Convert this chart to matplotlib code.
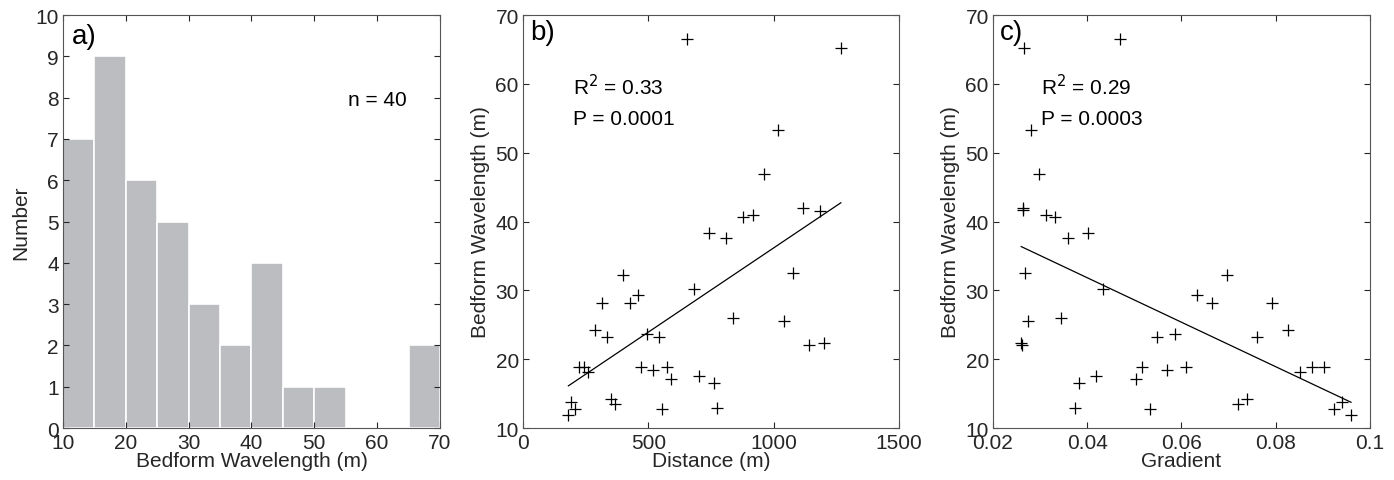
import matplotlib

matplotlib.use("Agg")
import matplotlib.pyplot as plt
from matplotlib.ticker import FuncFormatter
import numpy as np

plt.rcParams["font.family"] = ["Liberation Sans", "DejaVu Sans"]

# Panel b: distance (m) vs bedform wavelength (m)
distance = [654, 1268, 1019, 962, 876, 917, 1116, 1184, 743, 811,
            397, 1076, 683, 315, 425, 458, 837, 1042, 287, 337,
            494, 542, 1141, 1200, 222, 242, 258, 472, 517, 573,
            590, 703, 760, 193, 209, 181, 351, 368, 554, 772]
wavelength_b = [66.5, 65.2, 53.3, 46.9, 40.6, 40.9, 41.9, 41.5, 38.3, 37.6,
                32.3, 32.5, 30.2, 28.2, 28.2, 29.3, 26.0, 25.6, 24.3, 23.2,
                23.6, 23.2, 22.0, 22.3, 18.8, 18.8, 18.1, 18.8, 18.4, 18.8,
                17.1, 17.6, 16.5, 13.8, 12.7, 11.9, 14.2, 13.5, 12.7, 12.9]

# Panel c: gradient vs bedform wavelength (m)
gradient = [0.0265, 0.0470, 0.0281, 0.0297, 0.0263, 0.0264, 0.0313, 0.0331, 0.0360, 0.0401,
            0.0268, 0.0433, 0.0274, 0.0345, 0.0260, 0.0261, 0.0634, 0.0664, 0.0696, 0.0793,
            0.0827, 0.0549, 0.0587, 0.0760, 0.0517, 0.0569, 0.0610, 0.0851, 0.0877, 0.0903,
            0.0418, 0.0503, 0.0383, 0.0375, 0.0533, 0.0721, 0.0740, 0.0924, 0.0941, 0.0960]
wavelength_c = [65.2, 66.5, 53.3, 46.9, 41.7, 41.9, 41.0, 40.6, 37.6, 38.3,
                32.5, 30.2, 25.6, 26.0, 22.3, 22.0, 29.3, 28.2, 32.3, 28.2,
                24.3, 23.2, 23.6, 23.2, 18.8, 18.4, 18.8, 18.1, 18.8, 18.8,
                17.6, 17.1, 16.5, 12.9, 12.7, 13.5, 14.2, 12.7, 13.8, 11.9]

hist_bins = np.arange(10, 75, 5)

TXT = "#262626"
SPINE = "#555555"
FS = 15


def style_axes(ax):
    ax.tick_params(direction="in", top=True, right=True, length=4.5, width=0.8,
                   labelsize=FS, colors=TXT, pad=3)
    ax.tick_params(axis="x", pad=3.5)
    for sp in ax.spines.values():
        sp.set_color(SPINE)
        sp.set_linewidth(0.8)


fig = plt.figure(figsize=(13.94, 4.81), dpi=100)
axa = fig.add_axes([0.0452, 0.108, 0.2704, 0.8586])
axb = fig.add_axes([0.3752, 0.108, 0.2697, 0.8586])
axc = fig.add_axes([0.7123, 0.108, 0.2704, 0.8586])

# a) histogram
axa.hist(wavelength_b, bins=hist_bins, color="#bcbdc0", edgecolor="white", linewidth=1.2)
axa.set_xlim(10, 70)
axa.set_ylim(0, 10)
axa.set_xticks(np.arange(10, 71, 10))
axa.set_yticks(np.arange(0, 11, 1))
axa.set_xlabel("Bedform Wavelength (m)", fontsize=FS, color=TXT, labelpad=-1)
axa.set_ylabel("Number", fontsize=FS, color=TXT, labelpad=4)
axa.text(11.4, 9.5, "a)", fontsize=20, color="black", va="center")
axa.text(55.3, 7.95, "n = 40", fontsize=15, color="black", va="center")
style_axes(axa)

# b) distance scatter
axb.plot(distance, wavelength_b, "k+", markersize=8, markeredgewidth=0.9)
fit_b = np.polyfit(distance, wavelength_b, 1)
xb = np.array([min(distance), max(distance)])
axb.plot(xb, np.polyval(fit_b, xb), color="black", linewidth=0.9)
axb.set_xlim(0, 1500)
axb.set_ylim(10, 70)
axb.set_xticks([0, 500, 1000, 1500])
axb.set_yticks(np.arange(10, 71, 10))
axb.set_xlabel("Distance (m)", fontsize=FS, color=TXT, labelpad=-1)
axb.set_ylabel("Bedform Wavelength (m)", fontsize=FS, color=TXT, labelpad=4)
axb.text(30, 67.5, "b)", fontsize=20, color="black", va="center")
axb.text(200, 59.7, "R$^2$ = 0.33", fontsize=15, color="black", va="center")
axb.text(200, 55.0, "P = 0.0001", fontsize=15, color="black", va="center")
style_axes(axb)

# c) gradient scatter
axc.plot(gradient, wavelength_c, "k+", markersize=8, markeredgewidth=0.9)
fit_c = np.polyfit(gradient, wavelength_c, 1)
xc = np.array([min(gradient), max(gradient)])
axc.plot(xc, np.polyval(fit_c, xc), color="black", linewidth=0.9)
axc.set_xlim(0.02, 0.1)
axc.set_ylim(10, 70)
axc.set_xticks([0.02, 0.04, 0.06, 0.08, 0.1])
axc.xaxis.set_major_formatter(FuncFormatter(lambda v, p: f"{v:g}"))
axc.set_yticks(np.arange(10, 71, 10))
axc.set_xlabel("Gradient", fontsize=FS, color=TXT, labelpad=-1)
axc.set_ylabel("Bedform Wavelength (m)", fontsize=FS, color=TXT, labelpad=4)
axc.text(0.0214, 67.5, "c)", fontsize=20, color="black", va="center")
axc.text(0.0302, 59.7, "R$^2$ = 0.29", fontsize=15, color="black", va="center")
axc.text(0.0302, 55.0, "P = 0.0003", fontsize=15, color="black", va="center")
style_axes(axc)

fig.savefig("out.png", dpi=100)
